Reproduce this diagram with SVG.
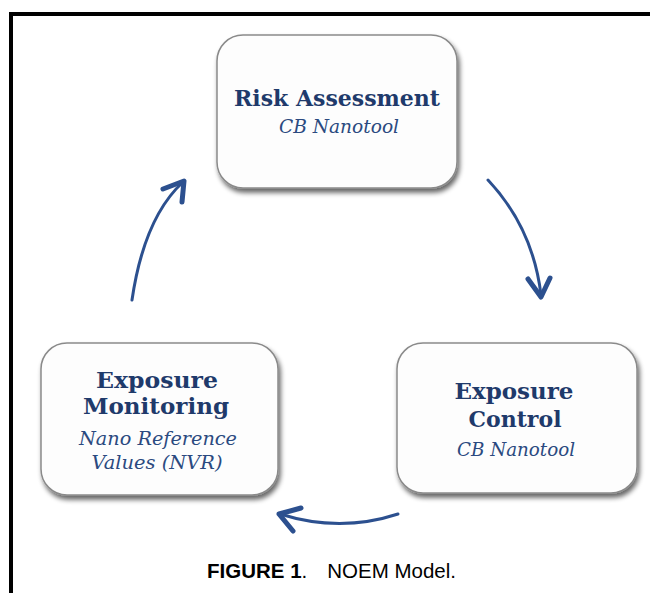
<svg xmlns="http://www.w3.org/2000/svg" width="650" height="593" viewBox="0 0 650 593">
  <defs>
    <filter id="shadow" x="-10%" y="-10%" width="125%" height="130%">
      <feGaussianBlur in="SourceAlpha" stdDeviation="2.5"/>
      <feOffset dx="2" dy="4" result="off"/>
      <feComponentTransfer><feFuncA type="linear" slope="0.6"/></feComponentTransfer>
      <feMerge><feMergeNode/><feMergeNode in="SourceGraphic"/></feMerge>
    </filter>
  </defs>
  <style>
    .box { fill: #fdfdfd; stroke: #8a8a8a; stroke-width: 1.5; filter: url(#shadow); }
    .title { font-family: "DejaVu Serif", "Liberation Serif", serif; font-weight: bold; fill: #1f3a6b; text-anchor: middle; }
    .sub { font-family: "DejaVu Serif", "Liberation Serif", serif; font-style: italic; fill: #2b4a80; text-anchor: middle; }
    .arrow { fill: none; stroke: #2c508f; stroke-width: 3; stroke-linecap: round; stroke-linejoin: round; }
    .head { fill: none; stroke: #2c508f; stroke-width: 5; stroke-linecap: round; stroke-linejoin: round; }
    .cap { font-family: "Liberation Sans", Arial, sans-serif; font-size: 20.5px; fill: #000; }
  </style>
  <rect width="650" height="593" fill="#fff"/>
  <!-- frame -->
  <path d="M11,593 V14 H650" fill="none" stroke="#000" stroke-width="4"/>

  <g id="risk-assessment">
    <rect class="box" x="217" y="35" width="240" height="153" rx="26"/>
    <text class="title" x="337" y="106" font-size="21.5" textLength="206" lengthAdjust="spacingAndGlyphs">Risk Assessment</text>
    <text class="sub" x="339" y="133" font-size="18" textLength="120" lengthAdjust="spacingAndGlyphs">CB Nanotool</text>
  </g>

  <g id="exposure-control">
    <rect class="box" x="397" y="343" width="240" height="150" rx="26"/>
    <text class="title" x="514" y="399" font-size="21.5" textLength="119" lengthAdjust="spacingAndGlyphs">Exposure</text>
    <text class="title" x="515" y="427" font-size="21.5" textLength="93" lengthAdjust="spacingAndGlyphs">Control</text>
    <text class="sub" x="516" y="456" font-size="18" textLength="118" lengthAdjust="spacingAndGlyphs">CB Nanotool</text>
  </g>

  <g id="exposure-monitoring">
    <rect class="box" x="41" y="343" width="237" height="152" rx="26"/>
    <text class="title" x="157" y="388" font-size="21.5" textLength="122" lengthAdjust="spacingAndGlyphs">Exposure</text>
    <text class="title" x="156" y="414" font-size="21.5" textLength="146" lengthAdjust="spacingAndGlyphs">Monitoring</text>
    <text class="sub" x="158" y="445" font-size="18" textLength="158" lengthAdjust="spacingAndGlyphs">Nano Reference</text>
    <text class="sub" x="157" y="469" font-size="18" textLength="131" lengthAdjust="spacingAndGlyphs">Values (NVR)</text>
  </g>

  <g id="connectors">
    <path class="arrow" d="M132,300 Q144,218 183,182"/>
    <path class="head" d="M163,189 L184,181 L182,202"/>
    <path class="arrow" d="M488,180 Q533,228 541,295"/>
    <path class="head" d="M528,279 L541,297 L550,278"/>
    <path class="arrow" d="M398,514 Q340,533 280,514"/>
    <path class="head" d="M301,508 L279,514 L293,531"/>
  </g>

  <text class="cap" x="207" y="578"><tspan font-weight="bold">FIGURE 1</tspan>.<tspan dx="20">NOEM Model.</tspan></text>
</svg>
